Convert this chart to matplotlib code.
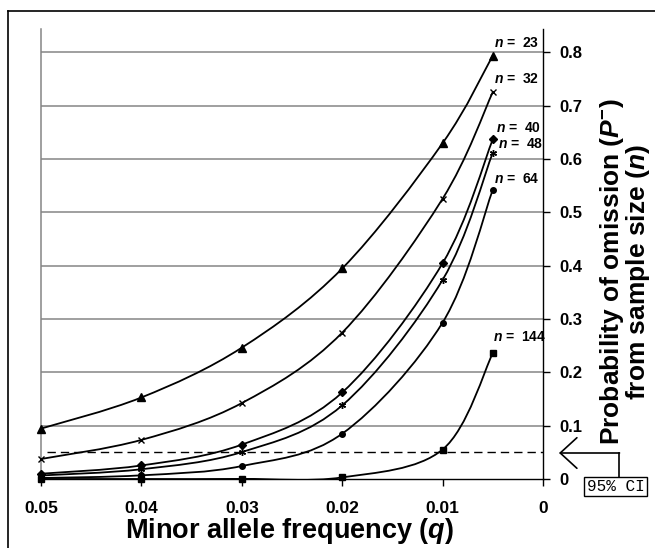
import numpy as np
import matplotlib
matplotlib.use("Agg")
import matplotlib.pyplot as plt
from matplotlib.path import Path
from matplotlib.patches import PathPatch
from matplotlib.lines import Line2D

plt.rcParams['font.family'] = ['Liberation Sans', 'DejaVu Sans']
plt.rcParams['mathtext.fontset'] = 'custom'
plt.rcParams['mathtext.rm'] = 'Liberation Sans:bold'
plt.rcParams['mathtext.bf'] = 'Liberation Sans:bold'
plt.rcParams['mathtext.it'] = 'Liberation Sans:italic'
plt.rcParams['mathtext.bfit'] = 'Liberation Sans:italic:bold'

# ---------------- data ----------------
q_values = [0.05, 0.04, 0.03, 0.02, 0.01, 0.005]
p_n23 = [0.0945, 0.1529, 0.2463, 0.3948, 0.6298, 0.7941]
p_n32 = [0.0375, 0.0733, 0.1424, 0.2745, 0.5256, 0.7256]
p_n40 = [0.0099, 0.0254, 0.0645, 0.1623, 0.4047, 0.6370]
p_n48 = [0.0066, 0.0183, 0.0505, 0.1381, 0.3735, 0.6119]
p_n64 = [0.0019, 0.0069, 0.0243, 0.0850, 0.2934, 0.5425]
p_n144 = [0.0000, 0.0000, 0.0002, 0.0030, 0.0553, 0.2360]
series_labels = ["23", "32", "40", "48", "64", "144"]
ci_threshold = 0.05
x_ticks = [0.05, 0.04, 0.03, 0.02, 0.01, 0.0]
x_ticklabels = ["0.05", "0.04", "0.03", "0.02", "0.01", "0"]
y_ticks = [0, 0.1, 0.2, 0.3, 0.4, 0.5, 0.6, 0.7, 0.8]
y_ticklabels = ["0", "0.1", "0.2", "0.3", "0.4", "0.5", "0.6", "0.7", "0.8"]

# ---------------- styles ----------------
series = [p_n23, p_n32, p_n40, p_n48, p_n64, p_n144]
markers = ['^', 'x', 'D', (6, 2, 0), 'o', 's']
msizes = [5.5, 4.0, 4.0, 5.0, 4.0, 4.5]
label_offsets = [(1, 9), (1, 9), (3, 7), (5, 5), (1, 7), (0, 12)]  # pixels

W, H = 655, 548
fig = plt.figure(figsize=(W / 100, H / 100), dpi=100)
ax = fig.add_axes([41 / W, 1 - 479 / H, (543 - 41) / W, (479 - 29.3) / H])

ax.set_xlim(0.05, 0.0)
ax.set_ylim(0, 0.8433)


def smooth_path(xs, ys):
    pts = np.column_stack([xs, ys]).astype(float)
    n = len(pts)
    verts = [pts[0]]
    codes = [Path.MOVETO]
    for i in range(n - 1):
        p0 = pts[max(i - 1, 0)]
        p1 = pts[i]
        p2 = pts[i + 1]
        p3 = pts[min(i + 2, n - 1)]
        c1 = p1 + (p2 - p0) / 6.0
        c2 = p2 - (p3 - p1) / 6.0
        verts += [c1, c2, p2]
        codes += [Path.CURVE4] * 3
    return Path(verts, codes)


# gridlines
for yt in y_ticks[1:]:
    ax.axhline(yt, color='#858585', lw=1.1, zorder=1)

# threshold dashed line
ax.axhline(ci_threshold, xmin=0.012, xmax=1.0, color='black', lw=1.0,
           ls=(0, (6, 3.6)), zorder=2)

for vals, mk, ms, lab, off in zip(series, markers, msizes, series_labels, label_offsets):
    patch = PathPatch(smooth_path(q_values, vals), fill=False, edgecolor='black',
                      lw=1.3, transform=ax.transData, zorder=3)
    ax.add_patch(patch)
    ax.plot(q_values, vals, ls='none', marker=mk, ms=ms, color='black',
            mec='black', mew=1.0, clip_on=False, zorder=4)
    ax.annotate(r"$\mathbfit{n}$ =  " + lab, xy=(q_values[-1], vals[-1]),
                xytext=off, textcoords='offset pixels', ha='left', va='baseline',
                fontsize=10, fontweight='bold', zorder=5)

# spines
ax.spines['top'].set_visible(False)
ax.spines['left'].set_color('#858585')
ax.spines['left'].set_linewidth(1.1)
ax.spines['right'].set_color('black')
ax.spines['right'].set_linewidth(1.0)
ax.spines['bottom'].set_color('black')
ax.spines['bottom'].set_linewidth(1.0)

ax.set_xticks(x_ticks)
ax.set_xticklabels(x_ticklabels)
ax.set_yticks(y_ticks)
ax.set_yticklabels(y_ticklabels)
ax.yaxis.tick_right()
ax.tick_params(axis='y', direction='out', length=5, width=1, pad=6.5,
               labelsize=12, left=False, right=True)
ax.tick_params(axis='x', direction='out', length=5, width=1, pad=10.5,
               labelsize=12.5)
for t in ax.get_xticklabels() + ax.get_yticklabels():
    t.set_fontweight('bold')

# axis titles
fig.text(290 / W, 1 - 537.5 / H, r"Minor allele frequency ($\mathbfit{q}$)",
         ha='center', va='baseline', fontsize=19.5, fontweight='bold')
fig.text(625 / W, 1 - 272 / H,
         "Probability of omission ($\\mathbfit{P}^{\\mathbf{-}}$)\nfrom sample size ($\\mathbfit{n}$)",
         ha='center', va='center', rotation=90, fontsize=19, fontweight='bold',
         multialignment='center', linespacing=0.95)

# 95% CI annotation box and arrow
fig.text(615.5 / W, 1 - 486.5 / H, "95% CI", ha='center', va='center',
         family=['Liberation Mono', 'DejaVu Sans Mono'], fontsize=11.5,
         bbox=dict(boxstyle='square,pad=0.15', fc='white', ec='black', lw=1.0))
fig.add_artist(Line2D([619 / W, 619 / W], [1 - 477 / H, 1 - 453 / H],
                      transform=fig.transFigure, color='black', lw=1.2))
ax.annotate('', xy=(559 / W, 1 - 453 / H), xytext=(619.5 / W, 1 - 453 / H),
            xycoords='figure fraction', textcoords='figure fraction',
            arrowprops=dict(arrowstyle='->,head_length=0.6,head_width=0.55',
                            lw=1.2, color='black', mutation_scale=20,
                            shrinkA=0, shrinkB=0))

# outer frame (left and top)
fig.add_artist(Line2D([8 / W, 8 / W], [0, 1 - 11 / H], transform=fig.transFigure,
                      color='black', lw=1.2))
fig.add_artist(Line2D([8 / W, 1], [1 - 11 / H, 1 - 11 / H], transform=fig.transFigure,
                      color='black', lw=1.2))

fig.savefig("out.png", dpi=100, facecolor='white')
